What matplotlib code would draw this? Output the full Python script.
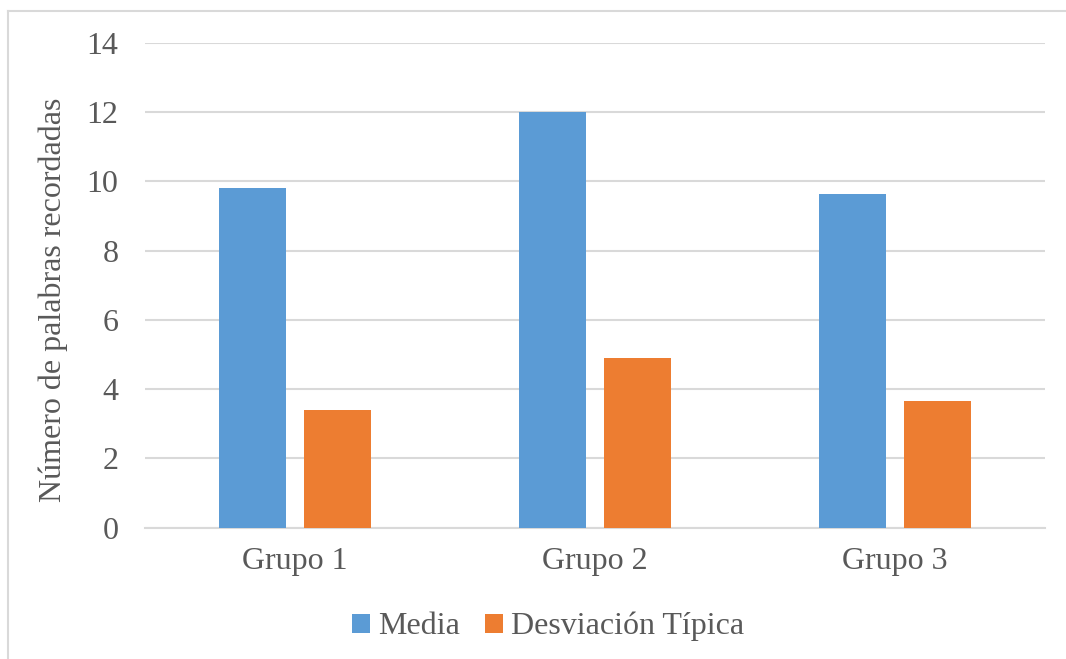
import matplotlib.pyplot as plt
import numpy as np
from matplotlib.lines import Line2D

grupos = ['Grupo 1', 'Grupo 2', 'Grupo 3']
media = [9.8, 12.0, 9.62]
desviacion = [3.39, 4.89, 3.65]

plt.rcParams['font.family'] = ['Liberation Serif', 'DejaVu Serif']

fig = plt.figure(figsize=(10.66, 6.59), dpi=100)
ax = fig.add_axes([0.136, 0.1994, 0.844, 0.7356])

x = np.arange(len(grupos))
w = 0.223
ax.bar(x - 0.1417, media, w, color='#5b9bd5', label='Media', zorder=3)
ax.bar(x + 0.1417, desviacion, w, color='#ed7d31', label='Desviación Típica', zorder=3)

ax.set_xlim(-0.5, 2.5)
ax.set_ylim(0, 14)
ax.set_yticks(range(0, 15, 2))
ax.set_xticks(x)
ax.set_xticklabels(grupos)
ax.grid(axis='y', color='#d9d9d9', linewidth=1.5, zorder=0)
ax.tick_params(length=0, labelsize=23, labelcolor='#595959')
ax.tick_params(axis='y', pad=19)
ax.tick_params(axis='x', pad=14)
for s in ['top', 'right', 'left']:
    ax.spines[s].set_visible(False)
ax.spines['bottom'].set_color('#d9d9d9')
ax.spines['bottom'].set_linewidth(1.5)
ax.set_ylabel('Número de palabras recordadas', fontsize=23, color='#595959')
ax.yaxis.set_label_coords(-0.086, 0.47)

fig.legend(loc='center', bbox_to_anchor=(0.514, 0.049), ncol=2, frameon=False,
           fontsize=23, labelcolor='#595959', handlelength=0.55, handleheight=0.55,
           handletextpad=0.25, columnspacing=0.8)

# light frame, only left and top edges visible in the crop
fig.lines.append(Line2D([0.0075, 0.0075], [0, 0.983], transform=fig.transFigure,
                        color='#d9d9d9', linewidth=1.5))
fig.lines.append(Line2D([0.0075, 1], [0.983, 0.983], transform=fig.transFigure,
                        color='#d9d9d9', linewidth=1.5))

fig.savefig('out.png', dpi=100)
